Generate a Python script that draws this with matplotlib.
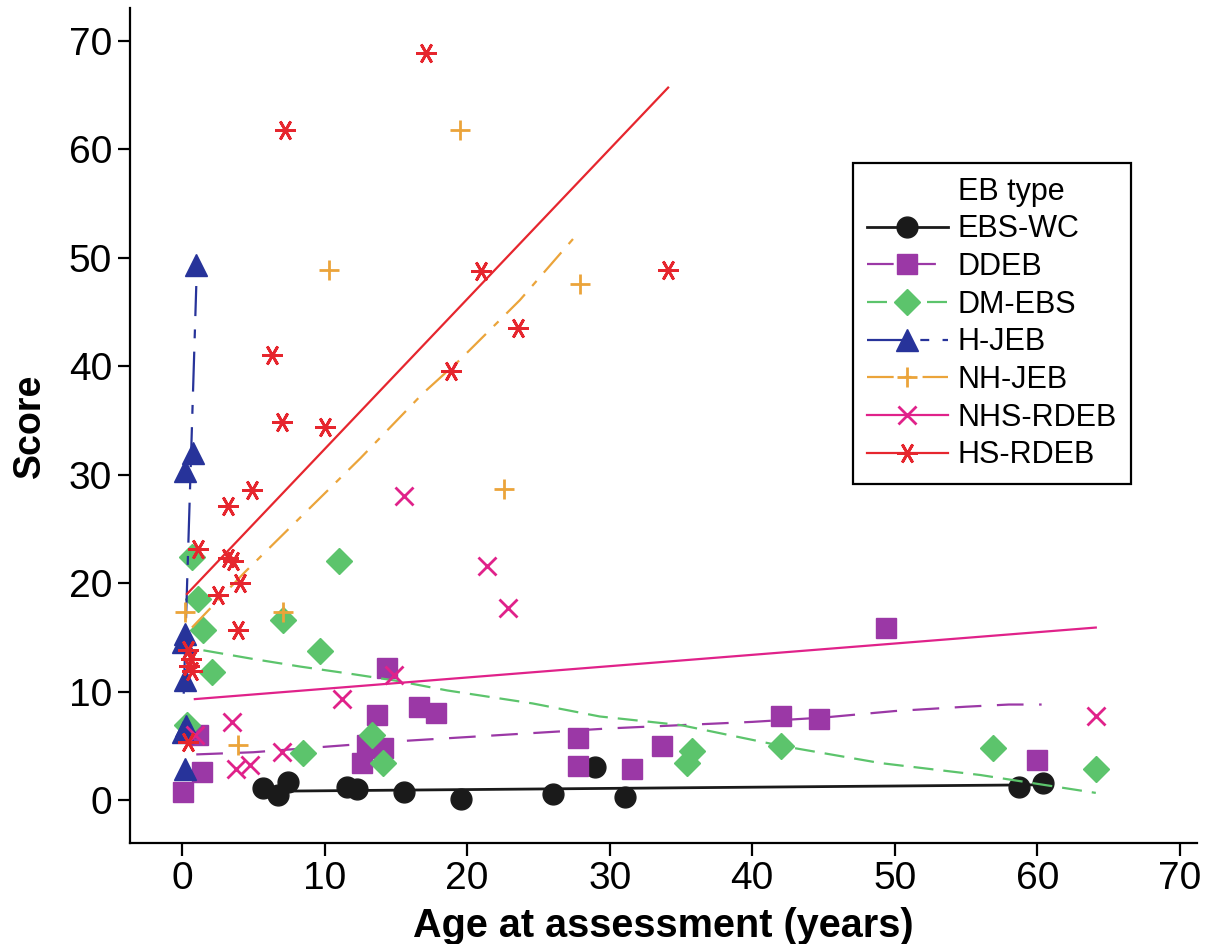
import numpy as np
import matplotlib.pyplot as plt
from matplotlib.lines import Line2D

plt.rcParams['font.family'] = ['Liberation Sans', 'DejaVu Sans']

# --- observations (age in years, score) ---
ebswc_age = [5.7, 6.7, 7.4, 11.6, 12.3, 15.6, 19.6, 26.0, 29.0, 31.1, 58.7, 60.4]
ebswc_score = [1.1, 0.5, 1.7, 1.2, 1.0, 0.7, 0.1, 0.55, 3.0, 0.3, 1.2, 1.6]

ddeb_age = [0.1, 1.4, 1.1, 12.6, 13.0, 14.1, 13.7, 14.4, 16.6, 17.8, 27.8, 27.8,
            31.6, 33.7, 42.0, 44.7, 49.4, 60.0]
ddeb_score = [0.7, 2.6, 6.0, 3.4, 5.1, 4.8, 7.8, 12.2, 8.6, 8.0, 5.7, 3.1,
              2.9, 5.0, 7.7, 7.5, 15.9, 3.7]

dmebs_age = [0.35, 0.7, 1.1, 1.5, 2.1, 7.1, 8.5, 9.7, 11.0, 13.3, 14.1,
             35.4, 35.8, 42.0, 56.9, 64.1]
dmebs_score = [6.9, 22.4, 18.5, 15.7, 11.8, 16.6, 4.3, 13.7, 22.0, 6.0, 3.4,
               3.4, 4.5, 5.0, 4.8, 2.9]

hjeb_age = [0.2, 0.1, 0.3, 0.2, 0.1, 0.2, 0.2, 0.8, 1.0]
hjeb_score = [2.9, 6.3, 6.8, 11.1, 14.6, 15.3, 30.3, 32.0, 49.3]

nhjeb_age = [0.2, 3.9, 7.1, 10.3, 19.5, 22.6, 27.9]
nhjeb_score = [17.3, 5.1, 17.3, 48.9, 61.8, 28.7, 47.6]

nhsrdeb_age = [0.9, 3.5, 3.8, 4.8, 7.0, 11.2, 14.9, 15.6, 21.4, 22.9, 64.1]
nhsrdeb_score = [6.0, 7.2, 2.9, 3.2, 4.4, 9.3, 11.5, 28.0, 21.6, 17.7, 7.7]

hsrdeb_age = [0.4, 0.6, 0.5, 0.7, 0.4, 1.1, 2.5, 3.2, 3.6, 3.9, 4.1, 3.2, 4.9,
              6.3, 7.0, 7.2, 10.0, 17.1, 18.9, 21.0, 23.6, 34.1]
hsrdeb_score = [13.8, 13.0, 12.4, 11.9, 5.3, 23.1, 18.9, 22.3, 22.0, 15.7, 20.0,
                27.1, 28.6, 41.0, 34.9, 61.8, 34.4, 68.9, 39.6, 48.8, 43.5, 48.9]

# --- fitted trend lines ---
ebswc_fit_age = [5.7, 60.4]
ebswc_fit_score = [0.8, 1.4]

ddeb_fit_age = [1.0, 5.0, 10.0, 15.0, 20.0, 25.0, 30.0, 35.0, 40.0, 45.0, 50.0, 55.0, 58.0, 60.3]
ddeb_fit_score = [4.2, 4.4, 4.9, 5.4, 5.8, 6.2, 6.6, 6.9, 7.2, 7.6, 8.2, 8.6, 8.8, 8.8]

dmebs_fit_age = [1.5, 5.0, 8.3, 12.0, 15.0, 18.6, 24.6, 29.3, 35.0, 42.0, 49.0, 56.0, 64.1]
dmebs_fit_score = [13.8, 13.0, 12.3, 11.6, 11.0, 10.1, 8.9, 7.7, 6.9, 5.0, 3.4, 2.3, 0.65]

hjeb_fit_age = [0.12, 1.0]
hjeb_fit_score = [9.8, 47.4]

nhjeb_fit_age = [0.7, 4.4, 8.1, 12.5, 16.9, 19.5, 23.7, 27.8]
nhjeb_fit_score = [15.9, 21.0, 25.8, 31.5, 37.5, 40.6, 46.1, 52.3]

nhsrdeb_fit_age = [0.9, 64.1]
nhsrdeb_fit_score = [9.3, 15.9]

hsrdeb_fit_age = [0.35, 34.1]
hsrdeb_fit_score = [19.0, 65.7]

fig = plt.figure(figsize=(12.08, 9.44), dpi=100)
ax = fig.add_axes([0.1076, 0.107, 0.8833, 0.8845])

groups = [
    ('EBS-WC', ebswc_age, ebswc_score, ebswc_fit_age, ebswc_fit_score,
     '#1a1a1a', 'o', 15, '-', None),
    ('DDEB', ddeb_age, ddeb_score, ddeb_fit_age, ddeb_fit_score,
     '#9b38a6', 's', 14, '--', (12, 7)),
    ('DM-EBS', dmebs_age, dmebs_score, dmebs_fit_age, dmebs_fit_score,
     '#5cc46c', 'D', 13, '--', (9, 4.5)),
    ('H-JEB', hjeb_age, hjeb_score, hjeb_fit_age, hjeb_fit_score,
     '#27339a', '^', 16, '-.', (18, 6, 4, 6)),
    ('NH-JEB', nhjeb_age, nhjeb_score, nhjeb_fit_age, nhjeb_fit_score,
     '#eba43a', '+', 15, '-.', (12, 5, 3, 5)),
    ('NHS-RDEB', nhsrdeb_age, nhsrdeb_score, nhsrdeb_fit_age, nhsrdeb_fit_score,
     '#e0228a', 'x', 13, '-', None),
    ('HS-RDEB', hsrdeb_age, hsrdeb_score, hsrdeb_fit_age, hsrdeb_fit_score,
     '#e6262e', (6, 2, 90), 15, '-', None),
]

handles = [Line2D([], [], linestyle='none', marker='none')]
labels = ['EB type']
for name, xs, ys, fx, fy, col, mk, ms, ls, dash in groups:
    mew = 2 if mk in ('+', 'x') or isinstance(mk, tuple) else 1
    lw = 2.0 if name == 'EBS-WC' else 1.6
    ln, = ax.plot(fx, fy, color=col, lw=lw, ls=ls)
    if dash is not None:
        ln.set_dashes(dash)
    ax.plot(xs, ys, linestyle='none', marker=mk, ms=ms, color=col, mec=col, mew=mew)
    h = Line2D([], [], color=col, lw=lw, ls=ls, marker=mk, ms=ms, mec=col, mew=mew)
    if dash is not None:
        h.set_dashes(dash)
    handles.append(h)
    labels.append(name)

ax.set_xlim(-3.65, 71.2)
ax.set_ylim(-3.97, 73.04)
ax.set_xticks(np.arange(0, 71, 10))
ax.set_yticks(np.arange(0, 71, 10))
ax.spines['top'].set_visible(False)
ax.spines['right'].set_visible(False)
for s in ('left', 'bottom'):
    ax.spines[s].set_linewidth(1.6)
ax.tick_params(axis='both', length=9, width=1.6, labelsize=28, pad=4)
ax.set_xlabel('Age at assessment (years)', fontsize=28.5, fontweight='bold', labelpad=7)
ax.set_ylabel('Score', fontsize=27, fontweight='bold', labelpad=15)

leg = ax.legend(handles, labels, loc='upper left', bbox_to_anchor=(0.6776, 0.8144),
                borderaxespad=0, fontsize=22, handlelength=2.65, handletextpad=0.33,
                labelspacing=0.25, borderpad=0.45, fancybox=False, edgecolor='black',
                framealpha=1)
leg.get_frame().set_linewidth(1.6)

fig.savefig('out.png', dpi=100)
